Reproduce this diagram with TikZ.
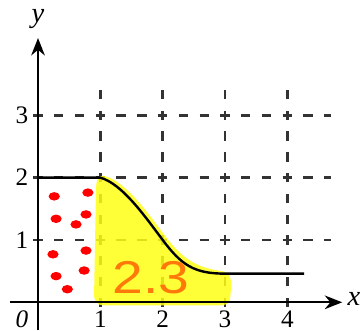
\documentclass[tikz,border=0pt]{standalone}
\usepackage{fontspec}
\setmainfont{Liberation Serif}
\newfontfamily\notefont{Liberation Sans}
\usetikzlibrary{arrows.meta}

\begin{document}
\begin{tikzpicture}[every node/.style={font=\fontsize{11.5}{13}\selectfont, inner sep=0pt},
    gridline/.style={draw=black!80, line width=1.3pt, dash pattern=on 0.15cm off 0.1833cm},
    axis/.style={line width=0.75pt, -{Stealth[length=2.8mm, width=2.2mm]}},
    graphline/.style={line width=1.1pt},
    highlight/.style={fill={rgb,255:red,255;green,255;blue,20}, opacity=0.85},
    spot/.style={fill=red},
    handnote/.style={text={rgb,255:red,255;green,120;blue,10}, font=\notefont\fontsize{21}{21}\selectfont, xscale=1.2}]
  \useasboundingbox (-0.61,-0.45) rectangle (5.23,4.85);
  % grid
  \foreach \gx in {1,...,4}
    \draw[gridline] (\gx,-0.075) -- (\gx,3.41);
  \foreach \gy in {1,2,3}
    \draw[gridline] (-0.075,\gy) -- (4.7,\gy);
  % marked area
  \fill[highlight] (0.9,0.15) -- (0.93,1.8) .. controls (0.93,1.98) and (0.98,2.04) .. (1.05,2.03)
    .. controls (1.4,1.95) and (1.75,1.45) .. (2.05,1.05)
    .. controls (2.35,0.65) and (2.6,0.55) .. (2.95,0.5)
    .. controls (3.07,0.48) and (3.1,0.4) .. (3.1,0.25) -- (3.08,0.05)
    .. controls (3.07,-0.03) and (3.0,-0.05) .. (2.9,-0.05) -- (1.05,-0.05)
    .. controls (0.95,-0.05) and (0.89,0.02) .. (0.9,0.15) -- cycle;
  % red spots
  \foreach \sx/\sy in {0.26/1.70, 0.80/1.76, 0.29/1.34, 0.77/1.41, 0.61/1.25,
                       0.24/0.77, 0.77/0.83, 0.29/0.42, 0.74/0.51, 0.47/0.21}
    \fill[spot] (\sx,\sy) ellipse [x radius=0.09, y radius=0.068];
  % graph
  \draw[graphline] (0,2) -- (1,2) .. controls (1.35,1.9) and (1.7,1.4) .. (2,1)
    .. controls (2.3,0.6) and (2.5,0.46) .. (3,0.46) -- (4.27,0.46);
  % axes
  \draw[axis] (-0.45,0) -- (4.88,0);
  \draw[axis] (0,-0.45) -- (0,4.24);
  % labels
  \foreach \gx in {1,...,4}
    \node (xlab\gx) at (\gx,-0.27) {\gx};
  \foreach \gy in {1,2,3}
    \node (ylab\gy) at (-0.26,\gy) {\gy};
  \node (origin) at (-0.26,-0.27) {\itshape 0};
  \node (xname) at (5.07,0.05) {\fontsize{13}{13}\selectfont\itshape x};
  \node (yname) at (0,4.55) {\fontsize{13}{13}\selectfont\itshape y};
  \node[handnote] (note) at (1.81,0.40) {2.3};
\end{tikzpicture}
\end{document}
